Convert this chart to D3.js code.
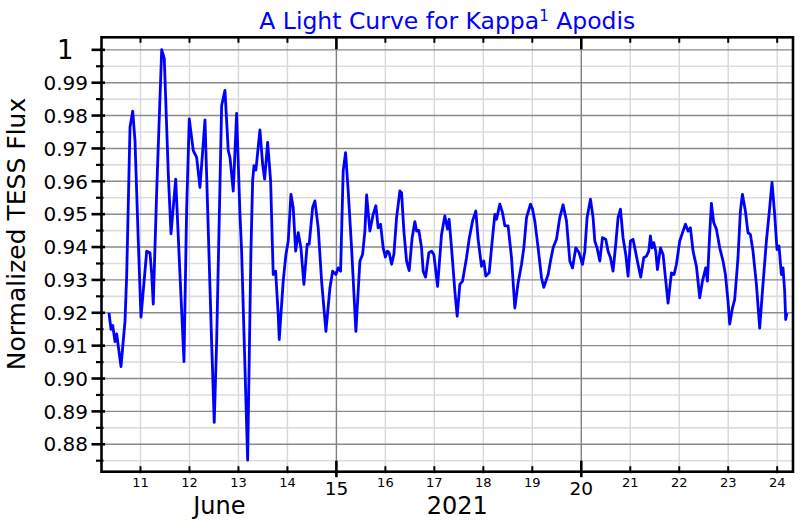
<!DOCTYPE html>
<html>
<head>
<meta charset="utf-8">
<script src="https://cdn.jsdelivr.net/npm/d3@7"></script>
<style>
  html, body { margin: 0; padding: 0; background: #fff; }
  svg { display: block; font-family: "DejaVu Sans", sans-serif; }
</style>
</head>
<body>
<svg id="chart" width="800" height="520"></svg>
<script>
// ---- data ----
const days = [10.367,10.408,10.443,10.490,10.524,10.612,10.694,10.729,10.796,10.851,10.898,10.965,11.020,11.137,11.204,11.239,11.271,11.341,11.443,11.496,11.578,11.633,11.729,11.816,11.898,11.953,12.006,12.088,12.157,12.224,12.327,12.462,12.516,12.565,12.667,12.735,12.802,12.837,12.904,12.973,13.041,13.075,13.198,13.265,13.300,13.327,13.367,13.449,13.504,13.545,13.606,13.667,13.720,13.769,13.822,13.843,13.924,13.980,14.027,14.082,14.129,14.178,14.231,14.286,14.347,14.414,14.455,14.524,14.571,14.639,14.708,14.796,14.878,14.933,15.000,15.047,15.096,15.149,15.198,15.251,15.320,15.408,15.490,15.545,15.592,15.627,15.694,15.761,15.816,15.863,15.912,15.965,16.010,16.051,16.088,16.137,16.184,16.239,16.306,16.341,16.388,16.443,16.496,16.557,16.612,16.647,16.694,16.749,16.782,16.831,16.898,16.953,17.000,17.076,17.157,17.224,17.280,17.312,17.361,17.429,17.476,17.531,17.586,17.667,17.720,17.790,17.857,17.904,17.973,18.020,18.061,18.129,18.198,18.245,18.280,18.347,18.402,18.449,18.516,18.586,18.653,18.720,18.790,18.837,18.892,18.973,19.014,19.061,19.129,19.198,19.245,19.333,19.382,19.435,19.504,19.571,19.639,19.708,19.776,19.831,19.898,19.965,20.035,20.082,20.129,20.198,20.251,20.286,20.333,20.388,20.443,20.510,20.557,20.606,20.659,20.714,20.761,20.810,20.863,20.918,20.965,21.014,21.067,21.116,21.169,21.224,21.286,21.341,21.388,21.422,21.455,21.490,21.531,21.565,21.627,21.680,21.729,21.782,21.851,21.904,21.953,22.020,22.088,22.137,22.190,22.239,22.292,22.361,22.429,22.484,22.551,22.586,22.633,22.667,22.714,22.769,22.837,22.904,22.953,23.006,23.041,23.096,23.143,23.210,23.259,23.300,23.361,23.414,23.463,23.516,23.586,23.653,23.720,23.790,23.857,23.904,23.959,24.006,24.047,24.096,24.129,24.163,24.184,24.210];
const flux = [0.9198,0.9148,0.9160,0.9111,0.9134,0.9035,0.9173,0.9316,0.9763,0.9812,0.9722,0.9417,0.9185,0.9386,0.9381,0.9316,0.9225,0.9569,0.9999,0.9972,0.9621,0.9439,0.9605,0.9316,0.9050,0.9518,0.9788,0.9692,0.9671,0.9580,0.9785,0.9111,0.8865,0.9111,0.9829,0.9875,0.9692,0.9671,0.9569,0.9805,0.9499,0.9386,0.8750,0.9386,0.9600,0.9646,0.9633,0.9755,0.9651,0.9605,0.9717,0.9600,0.9315,0.9325,0.9193,0.9117,0.9295,0.9376,0.9417,0.9559,0.9518,0.9386,0.9442,0.9396,0.9285,0.9407,0.9407,0.9518,0.9539,0.9457,0.9295,0.9142,0.9274,0.9325,0.9315,0.9335,0.9325,0.9631,0.9686,0.9569,0.9396,0.9142,0.9356,0.9376,0.9447,0.9557,0.9447,0.9498,0.9524,0.9457,0.9468,0.9396,0.9368,0.9386,0.9381,0.9346,0.9376,0.9488,0.9569,0.9564,0.9447,0.9356,0.9327,0.9427,0.9476,0.9447,0.9449,0.9396,0.9325,0.9307,0.9381,0.9386,0.9376,0.9279,0.9437,0.9493,0.9453,0.9483,0.9396,0.9264,0.9188,0.9285,0.9295,0.9366,0.9422,0.9478,0.9508,0.9422,0.9340,0.9356,0.9310,0.9320,0.9427,0.9498,0.9483,0.9529,0.9503,0.9463,0.9463,0.9366,0.9213,0.9289,0.9346,0.9396,0.9488,0.9529,0.9514,0.9478,0.9396,0.9305,0.9276,0.9315,0.9356,0.9396,0.9422,0.9488,0.9527,0.9478,0.9356,0.9335,0.9396,0.9381,0.9346,0.9386,0.9488,0.9544,0.9488,0.9417,0.9396,0.9356,0.9427,0.9422,0.9386,0.9366,0.9325,0.9407,0.9488,0.9514,0.9427,0.9376,0.9310,0.9417,0.9422,0.9386,0.9346,0.9307,0.9366,0.9371,0.9386,0.9432,0.9396,0.9412,0.9386,0.9330,0.9396,0.9376,0.9305,0.9228,0.9320,0.9315,0.9346,0.9417,0.9447,0.9468,0.9447,0.9457,0.9386,0.9340,0.9244,0.9295,0.9335,0.9295,0.9442,0.9531,0.9473,0.9453,0.9396,0.9356,0.9315,0.9234,0.9164,0.9213,0.9239,0.9366,0.9508,0.9559,0.9508,0.9442,0.9437,0.9386,0.9285,0.9152,0.9285,0.9417,0.9518,0.9595,0.9498,0.9391,0.9402,0.9315,0.9335,0.9264,0.9178,0.9198];

const xMinorTicks = [11,12,13,14,16,17,18,19,21,22,23,24];
const xMajorTicks = [15,20];
const xLevel2Labels = [{label: "June", at: 12.62}, {label: "2021", at: 17.48}];
const yMinorTicks = [0.88,0.89,0.90,0.91,0.92,0.93,0.94,0.95,0.96,0.97,0.98,0.99];
const yMinorLabels = ["0.88","0.89","0.90","0.91","0.92","0.93","0.94","0.95","0.96","0.97","0.98","0.99"];
const yMajorTicks = [1];
const yMajorLabels = ["1"];
const yHalfTicks = [0.875,0.885,0.895,0.905,0.915,0.925,0.935,0.945,0.955,0.965,0.975,0.985,0.995];

const titleMain = "A Light Curve for Kappa";
const titleSup = "1";
const titleEnd = " Apodis";
const yLabel = "Normalized TESS Flux";

// ---- layout ----
const L = 101.5, R = 793, T = 37.3, B = 471.7;
const svg = d3.select("#chart");
const x = d3.scaleLinear().domain([10.214, 24.333]).range([L, R]);
const y = d3.scaleLinear().domain([0.8715, 1.00366]).range([B, T]);

// ---- gridlines ----
const grid = svg.append("g");
grid.append("g").attr("transform", `translate(${L},0)`)
  .call(d3.axisLeft(y).tickValues(yHalfTicks).tickSize(-(R - L)).tickFormat(""))
  .call(g => g.select(".domain").remove())
  .selectAll("line").attr("stroke", "#dedede").attr("stroke-width", 1.6);
grid.append("g").attr("transform", `translate(0,${B})`)
  .call(d3.axisBottom(x).tickValues(xMinorTicks).tickSize(-(B - T)).tickFormat(""))
  .call(g => g.select(".domain").remove())
  .selectAll("line").attr("stroke", "#d8d8d8").attr("stroke-width", 1.4);
grid.append("g").attr("transform", `translate(${L},0)`)
  .call(d3.axisLeft(y).tickValues(yMinorTicks.concat(yMajorTicks)).tickSize(-(R - L)).tickFormat(""))
  .call(g => g.select(".domain").remove())
  .selectAll("line").attr("stroke", "#8a8a8a").attr("stroke-width", 1.4);
grid.append("g").attr("transform", `translate(0,${B})`)
  .call(d3.axisBottom(x).tickValues(xMajorTicks).tickSize(-(B - T)).tickFormat(""))
  .call(g => g.select(".domain").remove())
  .selectAll("line").attr("stroke", "#808080").attr("stroke-width", 1.4);

// ---- data line ----
const pts = days.map((d, i) => [d, flux[i]]);
svg.append("path")
  .datum(pts)
  .attr("fill", "none")
  .attr("stroke", "#0000ff")
  .attr("stroke-width", 2.8)
  .attr("stroke-linejoin", "round")
  .attr("d", d3.line().x(d => x(d[0])).y(d => y(d[1])));

// ---- frame ----
svg.append("rect").attr("x", L).attr("y", T).attr("width", R - L).attr("height", B - T)
  .attr("fill", "none").attr("stroke", "#000").attr("stroke-width", 2.6);

// ---- axes ----
function styleTicks(g, x1, x2, y1, y2, w) {
  g.select(".domain").remove();
  g.selectAll(".tick line").attr("stroke", "#000").attr("stroke-width", w)
    .attr("x1", x1).attr("x2", x2).attr("y1", y1).attr("y2", y2);
}
// bottom minor
svg.append("g").attr("transform", `translate(0,${B})`)
  .call(d3.axisBottom(x).tickValues(xMinorTicks).tickSize(0).tickFormat(d3.format("d")))
  .call(g => styleTicks(g, 0, 0, -5.5, 1.5, 2))
  .call(g => g.selectAll("text").attr("font-size", 13).attr("fill", "#000")
    .attr("font-family", "DejaVu Sans").attr("dy", "0.71em").attr("y", 6.5));
// bottom major
svg.append("g").attr("transform", `translate(0,${B})`)
  .call(d3.axisBottom(x).tickValues(xMajorTicks).tickSize(0).tickFormat(d3.format("d")))
  .call(g => styleTicks(g, 0, 0, -11, 5.5, 2.6))
  .call(g => g.selectAll("text").attr("font-size", 18.5).attr("fill", "#000")
    .attr("font-family", "DejaVu Sans").attr("dy", "0.71em").attr("y", 10));
// top ticks (inward)
svg.append("g").attr("transform", `translate(0,${T})`)
  .call(d3.axisTop(x).tickValues(xMinorTicks).tickSize(0).tickFormat(""))
  .call(g => styleTicks(g, 0, 0, 0, 5.5, 2));
svg.append("g").attr("transform", `translate(0,${T})`)
  .call(d3.axisTop(x).tickValues(xMajorTicks).tickSize(0).tickFormat(""))
  .call(g => styleTicks(g, 0, 0, 0, 12, 2.6));
// second-level x labels
svg.append("g").selectAll("text").data(xLevel2Labels).join("text")
  .attr("x", d => x(d.at)).attr("y", 514)
  .attr("text-anchor", "middle").attr("font-size", 24).attr("fill", "#000")
  .text(d => d.label);

// left minor (0.01) ticks + labels
svg.append("g").attr("transform", `translate(${L},0)`)
  .call(d3.axisLeft(y).tickValues(yMinorTicks).tickSize(0).tickFormat((d, i) => yMinorLabels[i]))
  .call(g => styleTicks(g, -10, 3.5, 0, 0, 2.6))
  .call(g => g.selectAll("text").attr("font-size", 20).attr("fill", "#000")
    .attr("font-family", "DejaVu Sans").attr("x", -13.5).attr("dy", "0.36em"));
svg.append("g").attr("transform", `translate(${L},0)`)
  .call(d3.axisLeft(y).tickValues(yMajorTicks).tickSize(0).tickFormat((d, i) => yMajorLabels[i]))
  .call(g => styleTicks(g, -10, 3.5, 0, 0, 2.6))
  .call(g => g.selectAll("text").attr("font-size", 26).attr("fill", "#000")
    .attr("font-family", "DejaVu Sans").attr("x", -28).attr("dy", "0.36em"));
// left half ticks
svg.append("g").attr("transform", `translate(${L},0)`)
  .call(d3.axisLeft(y).tickValues(yHalfTicks).tickSize(0).tickFormat(""))
  .call(g => styleTicks(g, -5.5, 2, 0, 0, 2.2));

// ---- y label ----
svg.append("text")
  .attr("transform", `translate(25,234) rotate(-90)`)
  .attr("text-anchor", "middle")
  .attr("font-size", 25).attr("fill", "#000")
  .text(yLabel);

// ---- title ----
const title = svg.append("text")
  .attr("x", (L + R) / 2).attr("y", 29)
  .attr("text-anchor", "middle")
  .attr("font-size", 23.5).attr("fill", "#0000ff");
title.append("tspan").text(titleMain);
title.append("tspan").attr("font-size", 15).attr("dy", -8.5).text(titleSup);
title.append("tspan").attr("dy", 8.5).text(titleEnd);
</script>
</body>
</html>
